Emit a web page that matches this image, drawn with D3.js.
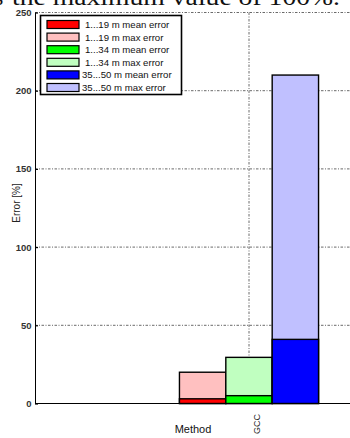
<!DOCTYPE html>
<html>
<head>
<meta charset="utf-8">
<script src="https://cdn.jsdelivr.net/npm/d3@7"></script>
<style>
  html, body { margin: 0; padding: 0; background: #fff; }
  svg { display: block; }
  text { font-family: "Liberation Sans", Arial, sans-serif; }
</style>
</head>
<body>
<svg id="chart" width="350" height="438"></svg>
<script>
// Error per distance range for the GCC method
const categories = ["GCC"];
const seriesNames = [
  "1...19 m mean error", "1...19 m max error",
  "1...34 m mean error", "1...34 m max error",
  "35...50 m mean error", "35...50 m max error"
];
const ranges = ["1...19 m", "1...34 m", "35...50 m"];
const meanError = [3, 5, 41];
const maxError = [20, 29.5, 210];
const meanColors = ["#ff0000", "#00ff00", "#0000ff"];
const maxColors = ["#ffc0c0", "#c0ffc0", "#c0c0ff"];
const yTicks = [0, 50, 100, 150, 200, 250];

const W = 350, H = 438;
const svg = d3.select("#chart");

// Caption line running off the top of the page
svg.append("text")
  .attr("x", -6).attr("y", 4.5)
  .style("font-family", "'Liberation Serif', 'DejaVu Serif', serif")
  .style("font-size", "24px").attr("fill", "#111")
  .text("s");
svg.append("text")
  .attr("x", 12).attr("y", 4.5)
  .attr("textLength", 328).attr("lengthAdjust", "spacingAndGlyphs")
  .style("font-family", "'Liberation Serif', 'DejaVu Serif', serif")
  .style("font-size", "24px").attr("fill", "#111")
  .text("the maximum value of 100%.");

const plotLeft = 35, plotBottom = 403.5, plotTop = 12.5;

const y = d3.scaleLinear().domain([0, 250]).range([plotBottom, plotTop]);
const x = d3.scaleLinear().domain([0, 1.5]).range([plotLeft, plotLeft + 1.5 * 214]);
const groupWidth = 0.65;
const sub = d3.scaleBand().domain(ranges).range([-groupWidth / 2, groupWidth / 2]);

// Grid lines
const gridStyle = g => g.attr("stroke", "#444").attr("stroke-width", 0.8)
  .attr("stroke-dasharray", "2.5,1.5,1,1.5");
svg.append("g").selectAll("line").data(yTicks.filter(d => d > 0)).join("line")
  .attr("x1", plotLeft).attr("x2", W)
  .attr("y1", d => y(d)).attr("y2", d => y(d))
  .call(gridStyle);
svg.append("g").selectAll("line").data(categories).join("line")
  .attr("x1", (d, i) => x(i + 1)).attr("x2", (d, i) => x(i + 1))
  .attr("y1", plotTop).attr("y2", plotBottom)
  .call(gridStyle);

// Bars: max error behind, mean error in front
const bars = svg.append("g");
categories.forEach((c, ci) => {
  ranges.forEach((r, ri) => {
    const bx = x(ci + 1 + sub(r));
    const bw = x(ci + 1 + sub(r) + sub.bandwidth()) - bx;
    bars.append("rect")
      .attr("x", bx).attr("width", bw)
      .attr("y", y(maxError[ri])).attr("height", y(0) - y(maxError[ri]))
      .attr("fill", maxColors[ri]).attr("stroke", "#000").attr("stroke-width", 1.4);
    bars.append("rect")
      .attr("x", bx).attr("width", bw)
      .attr("y", y(meanError[ri])).attr("height", y(0) - y(meanError[ri]))
      .attr("fill", meanColors[ri]).attr("stroke", "#000").attr("stroke-width", 1.4);
  });
});

// Axes
const yAxis = d3.axisLeft(y).tickValues(yTicks).tickSizeInner(-3).tickSizeOuter(0).tickPadding(6);
const gy = svg.append("g").attr("transform", `translate(${plotLeft},0)`).call(yAxis);
gy.select(".domain").attr("stroke", "#000").attr("stroke-width", 1);
gy.selectAll(".tick line").attr("stroke", "#000").attr("stroke-width", 1.2);
gy.selectAll(".tick text").style("font-size", "9.5px").style("font-weight", "bold")
  .attr("fill", "#333").attr("x", -3.5);

svg.append("line").attr("x1", plotLeft).attr("x2", W)
  .attr("y1", plotBottom).attr("y2", plotBottom).attr("stroke", "#000").attr("stroke-width", 1);

// Category label (rotated)
svg.append("g").selectAll("text").data(categories).join("text")
  .attr("transform", (d, i) => `translate(${x(i + 1) + 11},414) rotate(-90)`)
  .attr("text-anchor", "end")
  .style("font-size", "9px").attr("fill", "#222")
  .text(d => d);

// Axis titles
svg.append("text")
  .attr("transform", "translate(20,203) rotate(-90)")
  .attr("text-anchor", "middle")
  .style("font-size", "10px").attr("fill", "#222")
  .text("Error [%]");
svg.append("text")
  .attr("x", 193).attr("y", 433)
  .attr("text-anchor", "middle")
  .style("font-size", "11px").attr("fill", "#111")
  .text("Method");

// Legend
const legendColors = [];
ranges.forEach((r, i) => { legendColors.push(meanColors[i], maxColors[i]); });
const lg = svg.append("g");
lg.append("rect").attr("x", 40.5).attr("y", 15.5).attr("width", 141).attr("height", 79)
  .attr("fill", "#fff").attr("stroke", "#000").attr("stroke-width", 1.6);
const rowY = i => 24.5 + i * 12.6;
lg.selectAll("rect.sw").data(seriesNames).join("rect").attr("class", "sw")
  .attr("x", 47).attr("y", (d, i) => rowY(i) - 4).attr("width", 32).attr("height", 8)
  .attr("fill", (d, i) => legendColors[i]).attr("stroke", "#000").attr("stroke-width", 1.2);
lg.selectAll("text").data(seriesNames).join("text")
  .attr("x", d => d.startsWith("35") ? 82 : 85)
  .attr("y", (d, i) => rowY(i) + 3.4)
  .style("font-size", "9.6px").attr("fill", "#111")
  .text(d => d);
</script>
</body>
</html>
